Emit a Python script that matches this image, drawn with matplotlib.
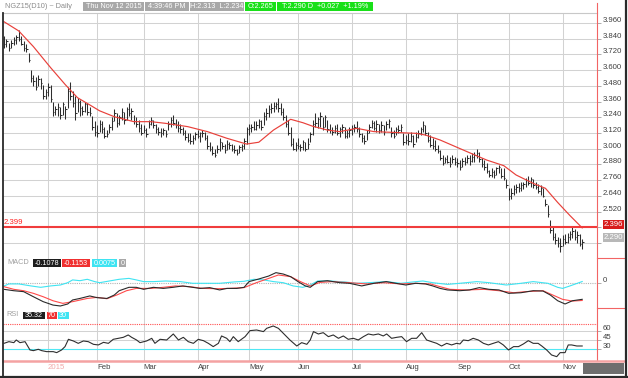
import matplotlib
matplotlib.use("Agg")
import matplotlib.pyplot as plt
from matplotlib.patches import Rectangle
from matplotlib.transforms import offset_copy

plt.rcParams['font.family'] = ['Liberation Sans', 'DejaVu Sans']

W, H = 628, 378

# month starts as bar index (bar 0 = early Dec 2014)
month_pos = [18, 38, 57, 79, 100, 120, 142, 164, 185, 206, 228]
month_lab = ['2015', 'Feb', 'Mar', 'Apr', 'May', 'Jun', 'Jul', 'Aug', 'Sep', 'Oct', 'Nov']

# daily bars (high / low / close)
high = [3.86, 3.84, 3.81, 3.83, 3.85, 3.87, 3.91, 3.86, 3.82, 3.80,
        3.73, 3.60, 3.56, 3.55, 3.56, 3.54, 3.49, 3.46, 3.50, 3.49,
        3.36, 3.33, 3.35, 3.32, 3.36, 3.33, 3.47, 3.51, 3.44, 3.40,
        3.39, 3.37, 3.33, 3.36, 3.35, 3.32, 3.25, 3.21, 3.18, 3.22,
        3.21, 3.17, 3.14, 3.19, 3.245, 3.30, 3.27, 3.26, 3.31, 3.28,
        3.32, 3.35, 3.31, 3.26, 3.245, 3.22, 3.19, 3.18, 3.16, 3.22,
        3.245, 3.22, 3.19, 3.17, 3.16, 3.16, 3.14, 3.21, 3.245, 3.26,
        3.23, 3.21, 3.19, 3.17, 3.14, 3.12, 3.12, 3.105, 3.13, 3.14,
        3.13, 3.14, 3.13, 3.105, 3.05, 3.02, 3.00, 3.03, 3.08, 3.05,
        3.04, 3.07, 3.05, 3.04, 3.03, 3.00, 3.03, 3.04, 3.08, 3.17,
        3.19, 3.19, 3.21, 3.21, 3.23, 3.22, 3.28, 3.31, 3.335, 3.35,
        3.36, 3.36, 3.385, 3.35, 3.31, 3.26, 3.22, 3.17, 3.08, 3.05,
        3.08, 3.04, 3.07, 3.05, 3.08, 3.13, 3.22, 3.27, 3.245, 3.28,
        3.245, 3.26, 3.22, 3.19, 3.17, 3.18, 3.19, 3.17, 3.19, 3.17,
        3.14, 3.17, 3.18, 3.19, 3.21, 3.17, 3.12, 3.105, 3.14, 3.19,
        3.22, 3.21, 3.22, 3.19, 3.21, 3.18, 3.21, 3.23, 3.17, 3.14,
        3.17, 3.18, 3.19, 3.12, 3.105, 3.12, 3.13, 3.105, 3.13, 3.14,
        3.17, 3.21, 3.18, 3.13, 3.105, 3.08, 3.07, 3.03, 2.99, 2.95,
        2.94, 2.95, 2.94, 2.95, 2.94, 2.927, 2.915, 2.927, 2.94, 2.95,
        2.95, 2.965, 2.978, 3.00, 2.978, 2.927, 2.915, 2.89, 2.838, 2.85,
        2.838, 2.863, 2.876, 2.85, 2.85, 2.77, 2.70, 2.70, 2.72, 2.73,
        2.74, 2.745, 2.75, 2.78, 2.79, 2.785, 2.77, 2.75, 2.73, 2.72,
        2.70, 2.62, 2.57, 2.455, 2.40, 2.355, 2.33, 2.32, 2.34, 2.35,
        2.36, 2.37, 2.40, 2.39, 2.37, 2.35, 2.313]
low = [3.77, 3.78, 3.75, 3.77, 3.79, 3.80, 3.82, 3.79, 3.75, 3.74,
       3.66, 3.51, 3.48, 3.45, 3.48, 3.46, 3.38, 3.38, 3.40, 3.36,
       3.25, 3.26, 3.25, 3.23, 3.26, 3.23, 3.31, 3.37, 3.32, 3.22,
       3.28, 3.25, 3.26, 3.28, 3.26, 3.25, 3.14, 3.10, 3.09, 3.13,
       3.12, 3.08, 3.09, 3.12, 3.14, 3.21, 3.17, 3.18, 3.22, 3.19,
       3.22, 3.25, 3.22, 3.19, 3.17, 3.13, 3.105, 3.12, 3.09, 3.16,
       3.18, 3.16, 3.12, 3.105, 3.09, 3.105, 3.09, 3.14, 3.17, 3.18,
       3.16, 3.13, 3.12, 3.105, 3.07, 3.055, 3.04, 3.04, 3.07, 3.08,
       3.055, 3.09, 3.07, 3.00, 2.98, 2.95, 2.94, 2.965, 2.98, 3.00,
       2.965, 2.99, 3.00, 2.98, 2.965, 2.95, 2.965, 2.98, 3.00, 3.04,
       3.105, 3.13, 3.14, 3.14, 3.16, 3.14, 3.18, 3.22, 3.245, 3.27,
       3.28, 3.30, 3.28, 3.26, 3.22, 3.17, 3.105, 3.02, 2.99, 2.98,
       3.00, 2.98, 2.99, 2.98, 3.00, 3.055, 3.105, 3.17, 3.16, 3.17,
       3.14, 3.17, 3.13, 3.12, 3.105, 3.12, 3.105, 3.09, 3.12, 3.08,
       3.08, 3.09, 3.105, 3.13, 3.13, 3.09, 3.055, 3.04, 3.07, 3.12,
       3.16, 3.14, 3.13, 3.12, 3.13, 3.105, 3.14, 3.16, 3.09, 3.08,
       3.105, 3.12, 3.13, 3.03, 3.04, 3.03, 3.055, 3.016, 3.055, 3.08,
       3.105, 3.13, 3.105, 3.055, 3.016, 3.00, 2.98, 2.965, 2.915, 2.876,
       2.89, 2.89, 2.863, 2.89, 2.876, 2.863, 2.838, 2.863, 2.876, 2.89,
       2.876, 2.90, 2.90, 2.927, 2.90, 2.863, 2.838, 2.813, 2.787, 2.787,
       2.775, 2.80, 2.813, 2.775, 2.76, 2.70, 2.61, 2.62, 2.65, 2.66,
       2.67, 2.68, 2.69, 2.71, 2.72, 2.71, 2.70, 2.69, 2.66, 2.645,
       2.63, 2.56, 2.48, 2.36, 2.30, 2.27, 2.25, 2.21, 2.26, 2.27,
       2.28, 2.30, 2.32, 2.30, 2.28, 2.26, 2.234]
close = [3.80, 3.82, 3.77, 3.81, 3.83, 3.85, 3.84, 3.80, 3.77, 3.76,
         3.68, 3.54, 3.52, 3.47, 3.53, 3.50, 3.40, 3.43, 3.47, 3.38,
         3.28, 3.30, 3.32, 3.26, 3.34, 3.30, 3.44, 3.40, 3.35, 3.27,
         3.36, 3.31, 3.29, 3.34, 3.28, 3.27, 3.17, 3.13, 3.12, 3.19,
         3.15, 3.10, 3.11, 3.17, 3.21, 3.27, 3.20, 3.24, 3.28, 3.22,
         3.30, 3.27, 3.29, 3.21, 3.19, 3.16, 3.12, 3.14, 3.11, 3.19,
         3.22, 3.18, 3.15, 3.13, 3.12, 3.14, 3.11, 3.19, 3.22, 3.20,
         3.18, 3.16, 3.15, 3.12, 3.09, 3.07, 3.06, 3.08, 3.11, 3.10,
         3.12, 3.12, 3.08, 3.02, 3.00, 2.97, 2.95, 3.00, 3.05, 3.02,
         2.99, 3.04, 3.03, 3.00, 2.99, 2.97, 3.01, 3.02, 3.06, 3.15,
         3.16, 3.17, 3.15, 3.18, 3.21, 3.17, 3.25, 3.27, 3.30, 3.31,
         3.33, 3.34, 3.31, 3.28, 3.24, 3.19, 3.12, 3.04, 3.00, 3.03,
         3.02, 3.01, 3.05, 3.00, 3.04, 3.11, 3.19, 3.20, 3.23, 3.25,
         3.17, 3.24, 3.15, 3.14, 3.13, 3.16, 3.12, 3.15, 3.17, 3.10,
         3.12, 3.14, 3.16, 3.17, 3.15, 3.11, 3.08, 3.06, 3.12, 3.17,
         3.20, 3.16, 3.19, 3.14, 3.18, 3.13, 3.19, 3.21, 3.12, 3.10,
         3.15, 3.14, 3.17, 3.05, 3.07, 3.06, 3.10, 3.04, 3.09, 3.12,
         3.15, 3.18, 3.12, 3.07, 3.03, 3.02, 3.00, 2.98, 2.93, 2.89,
         2.92, 2.90, 2.88, 2.92, 2.90, 2.89, 2.86, 2.91, 2.90, 2.93,
         2.91, 2.94, 2.95, 2.97, 2.92, 2.88, 2.86, 2.83, 2.80, 2.82,
         2.80, 2.85, 2.86, 2.79, 2.78, 2.72, 2.64, 2.66, 2.69, 2.71,
         2.70, 2.72, 2.73, 2.76, 2.74, 2.77, 2.72, 2.71, 2.68, 2.70,
         2.64, 2.58, 2.50, 2.38, 2.33, 2.30, 2.28, 2.26, 2.31, 2.29,
         2.33, 2.35, 2.37, 2.33, 2.34, 2.27, 2.290]
idx = list(range(len(close)))

# moving average (red), read at sample bars
ma_x = [0, 6, 12, 19, 25, 30, 35, 39, 45, 53, 60, 66, 75, 83, 91, 99, 104, 110,
        117, 122, 126, 132, 137, 144, 151, 159, 168, 172, 178, 189, 197, 204,
        209, 216, 221, 226, 231, 236]
ma_y = [3.97, 3.90, 3.78, 3.62, 3.49, 3.39, 3.335, 3.29, 3.245, 3.207, 3.207,
        3.194, 3.169, 3.131, 3.08, 3.036, 3.05, 3.143, 3.225, 3.199, 3.172,
        3.143, 3.131, 3.156, 3.131, 3.125, 3.118, 3.105, 3.067, 2.978, 2.914,
        2.871, 2.80, 2.736, 2.698, 2.59, 2.49, 2.396]
ma_level = 2.399

price_grid = [2.28, 2.40, 2.52, 2.64, 2.76, 2.88, 3.00, 3.12, 3.24, 3.36,
              3.48, 3.60, 3.72, 3.84, 3.96]
price_lab = [2.52, 2.64, 2.76, 2.88, 3.00, 3.12, 3.24, 3.36, 3.48, 3.60,
             3.72, 3.84, 3.96]

# MACD (black), signal (red), difference (cyan)
macd_x = [0, 4, 8, 12, 16, 20, 23, 26, 28, 31, 35, 38, 42, 45, 47, 51, 54, 57,
          61, 65, 69, 73, 77, 80, 84, 88, 91, 95, 98, 100, 104, 108, 111, 114,
          117, 120, 123, 125, 128, 132, 137, 141, 146, 151, 156, 160, 164, 168,
          172, 175, 178, 181, 186, 190, 194, 198, 202, 206, 211, 216, 220, 223,
          226, 229, 232, 236]
macd_y = [-0.043, -0.052, -0.058, -0.091, -0.123, -0.145, -0.151, -0.138,
          -0.112, -0.102, -0.086, -0.097, -0.102, -0.080, -0.052, -0.030,
          -0.030, -0.043, -0.030, -0.037, -0.030, -0.021, -0.030, -0.037,
          -0.032, -0.047, -0.037, -0.037, -0.030, 0.007, 0.024, 0.043, 0.065,
          0.056, 0.039, 0.007, -0.021, -0.030, 0.007, 0.013, 0.0, -0.004,
          -0.021, -0.004, 0.007, -0.004, -0.015, -0.004, -0.008, -0.021,
          -0.037, -0.047, -0.052, -0.047, -0.032, -0.043, -0.047, -0.069,
          -0.065, -0.052, -0.054, -0.080, -0.117, -0.138, -0.117, -0.1078]
sig_x = [0, 4, 8, 12, 16, 20, 24, 28, 34, 38, 42, 46, 50, 54, 60, 65, 70, 76,
         81, 87, 92, 98, 103, 107, 112, 117, 121, 125, 129, 134, 141, 148, 155,
         162, 168, 174, 178, 182, 189, 196, 202, 208, 213, 220, 224, 228, 232,
         236]
sig_y = [-0.026, -0.043, -0.052, -0.069, -0.091, -0.117, -0.134, -0.123,
         -0.102, -0.095, -0.104, -0.080, -0.052, -0.037, -0.037, -0.030,
         -0.021, -0.026, -0.037, -0.039, -0.037, -0.032, 0.0, 0.022, 0.050,
         0.039, 0.007, -0.021, 0.002, 0.007, 0.0, -0.008, 0.0, -0.008, -0.004,
         -0.008, -0.026, -0.043, -0.047, -0.043, -0.052, -0.065, -0.058,
         -0.052, -0.080, -0.108, -0.119, -0.1153]
diff_x = [0, 2, 6, 11, 15, 19, 23, 26, 28, 31, 34, 37, 39, 43, 47, 51, 54, 57,
          61, 66, 72, 77, 83, 88, 94, 98, 102, 106, 110, 114, 118, 122, 125,
          128, 133, 139, 144, 149, 156, 162, 167, 171, 175, 181, 186, 193, 198,
          205, 211, 216, 222, 226, 228, 231, 234, 236]
diff_y = [-0.021, -0.008, -0.008, -0.021, -0.030, -0.021, -0.015, 0.0, 0.018,
          0.013, 0.022, 0.007, 0.0, 0.011, 0.022, 0.028, 0.018, 0.007, 0.007,
          0.011, 0.007, -0.004, -0.004, -0.004, 0.005, 0.009, 0.022, 0.018,
          0.007, 0.0, -0.021, -0.030, -0.015, 0.011, 0.011, 0.005, -0.004, 0.0,
          0.007, -0.004, 0.005, 0.011, 0.0, -0.011, -0.004, 0.007, 0.0, -0.015,
          -0.004, 0.007, -0.004, -0.030, -0.037, -0.021, -0.004, 0.0075]

# RSI
rsi_x = [0, 2, 4, 5, 6.5, 8.6, 10.6, 12, 14, 15.4, 17.4, 20.1, 21.5, 23.5, 24.9,
         26.3, 28.3, 30.3, 32.4, 34.4, 36.5, 38.5, 40.6, 42.6, 44.6, 46.7,
         48.7, 50.7, 52.1, 54.1, 55.5, 58.2, 60.3, 61.6, 63.7, 66.4, 69.1,
         71.2, 73.2, 75.2, 77.3, 79.3, 81.4, 83.4, 85.4, 87.5, 88.8, 90.9,
         92.2, 93.6, 95.6, 98.4, 100.4, 103.1, 105.9, 107.2, 109.9, 112, 114,
         116.7, 119.5, 121.5, 123.6, 125, 126.3, 128.3, 130.3, 132.4, 134.4,
         136.5, 138.5, 140.5, 142.6, 144.6, 146.7, 148.7, 150.7, 152.8, 154.8,
         156.2, 158.2, 160.3, 162.3, 164.3, 166.4, 168.4, 170.5, 172.5, 174.5,
         176.6, 178.6, 180.7, 182.7, 184.7, 186.1, 187.5, 189.5, 191.5, 193.6,
         195.7, 197.7, 199.7, 201.8, 203.8, 205.9, 208, 210, 212, 214, 216, 218,
         219.5, 221.5, 223.5, 225.6, 227, 229, 230.3, 231.7, 233.8, 236]
rsi_y = [39.6, 42.3, 40.7, 45.0, 40.7, 42.3, 28.9, 27.8, 30.0, 27.8, 26.2, 26.2,
         24.6, 28.9, 34.3, 46.1, 43.4, 39.6, 43.4, 42.3, 38.0, 37.0, 41.2, 39.6,
         46.1, 47.7, 49.3, 53.1, 49.3, 45.0, 40.7, 43.4, 47.7, 39.6, 46.1, 45.0,
         54.7, 45.0, 49.3, 42.3, 39.6, 46.1, 43.9, 39.6, 34.3, 39.6, 51.5, 47.7,
         42.3, 50.4, 42.3, 50.4, 60.1, 61.1, 58.5, 63.8, 67.6, 63.8, 55.8, 45.0,
         35.3, 40.7, 38.0, 45.0, 58.5, 54.7, 56.8, 50.4, 53.1, 47.7, 51.5, 46.1,
         47.7, 45.0, 50.4, 54.7, 53.1, 54.7, 51.5, 54.7, 47.7, 49.3, 50.4, 42.3,
         47.7, 47.7, 56.8, 45.0, 42.3, 39.6, 35.3, 39.6, 37.0, 39.6, 38.6, 45.0,
         43.9, 47.7, 45.0, 39.6, 37.0, 39.6, 42.3, 37.0, 28.9, 34.3, 34.3, 38.6,
         43.9, 39.6, 39.6, 35.3, 28.9, 20.8, 18.1, 24.6, 24.6, 37.0, 37.0, 35.3,
         35.32]

# ---------------- layout helpers ----------------
fig = plt.figure(figsize=(W / 100, H / 100), dpi=100)
fig.patch.set_facecolor('white')


def px_axes(x0, y0, x1, y1):
    return fig.add_axes([x0 / W, 1 - y1 / H, (x1 - x0) / W, (y1 - y0) / H])


XL = (-0.41, 242.04)
GRID = '#d2d2d2'
TXT = '#404040'
FS = 5.6

main = px_axes(3, 12.7, 597, 258)
macd = px_axes(3, 258, 597, 308)
rsi = px_axes(3, 308, 597, 361)

for ax in (main, macd, rsi):
    ax.set_xlim(*XL)
    for s in ax.spines.values():
        s.set_visible(False)
    ax.set_xticks(month_pos)
    ax.grid(True, axis='x', color=GRID, lw=0.75)
    ax.tick_params(axis='x', length=0, labelbottom=False)
    ax.yaxis.tick_right()
    ax.tick_params(axis='y', length=3, width=0.6, color='#a0a0a0',
                   labelright=False, labelleft=False)
    ax.set_axisbelow(True)

main.spines['top'].set_visible(True)
main.spines['top'].set_color('#c8c8c8')
main.spines['top'].set_linewidth(0.8)


def right_label(ax, v, s, dy=2.5):
    tr = offset_copy(ax.get_yaxis_transform(), x=6, y=dy, units='dots')
    ax.text(1.0, v, s, transform=tr, ha='left', va='center', fontsize=FS,
            color=TXT, clip_on=False)


# ---- price panel ----
main.set_ylim(2.166, 4.039)
main.set_yticks(price_grid)
main.grid(True, axis='y', color=GRID, lw=0.75)
main.vlines(idx, low, high, color='#2e2e2e', lw=0.75)
main.hlines(close, idx, [i + 0.6 for i in idx], color='#2e2e2e', lw=0.75)
main.plot(ma_x, ma_y, color='#e8403a', lw=0.85)
main.axhline(ma_level, color='#f03c3c', lw=1.5)
for v in price_lab:
    right_label(main, v, f'{v:.3f}')
main.text(0.0, ma_level, f'{ma_level:.3f}',
          transform=offset_copy(main.get_yaxis_transform(), x=1, y=4.5, units='dots'),
          ha='left', va='center', fontsize=FS, color='#ff2020')
for v, s, fc, dy in [(ma_y[-1], f'{ma_y[-1]:.3f}', '#d81c1c', 3.5),
                     (close[-1], f'{close[-1]:.3f}', '#b8b8b8', 4.5)]:
    tr = offset_copy(main.get_yaxis_transform(), x=6.5, y=dy, units='dots')
    main.text(1.0, v, s, transform=tr, ha='left', va='center', fontsize=FS,
              color='white', clip_on=False,
              bbox=dict(boxstyle='square,pad=0.12', fc=fc, ec='none'))

# ---- MACD panel ----
macd.set_ylim(-0.164, 0.160)
macd.set_yticks([0])
macd.axhline(0, color='#b4b4b4', lw=0.8, ls=(0, (1, 1)))
macd.plot(diff_x, diff_y, color='#3ee4f2', lw=0.8)
macd.plot(sig_x, sig_y, color='#ff4a4a', lw=0.8)
macd.plot(macd_x, macd_y, color='#2a2a2a', lw=0.8)
right_label(macd, 0, '0')

# ---- RSI panel ----
rsi.set_ylim(11.1, 96.6)
rsi.set_yticks([30, 45, 60])
rsi.axhline(70, color='#ff5050', lw=0.8, ls=(0, (1, 1)))
rsi.axhline(60, color=GRID, lw=0.75)
rsi.axhline(45, color=GRID, lw=0.75)
rsi.axhline(30, color='#50e8f4', lw=0.8)
rsi.plot(rsi_x, rsi_y, color='#2e2e2e', lw=0.8)
for v in [60, 45, 30]:
    right_label(rsi, v, str(v))

rsi.tick_params(axis='x', labelbottom=True, pad=2.2, labelsize=FS, labelcolor=TXT)
rsi.set_xticks(month_pos, month_lab)
for lab in rsi.get_xticklabels():
    lab.set_ha('left')
rsi.get_xticklabels()[0].set_color('#f2a8a8')

# ---------------- overlay: frame, title and legend boxes ----------------
ov = fig.add_axes([0, 0, 1, 1])
ov.set_xlim(0, W)
ov.set_ylim(H, 0)
ov.axis('off')
ov.patch.set_alpha(0)
ov.set_zorder(10)

ov.plot([597, 597], [3, 361], color='#f26464', lw=0.8)
ov.plot([3, 624], [361, 361], color='#f4a2a2', lw=1.8)
ov.plot([597, 624], [258, 258], color='#f26464', lw=0.8)
ov.plot([597, 624], [308, 308], color='#f26464', lw=0.8)
ov.add_patch(Rectangle((583, 363), 41, 11, fc='#6e6e6e', ec='none'))
ov.plot([2.5, 2.5], [12.7, 376], color='#2a2a2a', lw=1.3)
ov.plot([626, 626], [0, 378], color='#2a2a2a', lw=1.6)
ov.plot([0, 628], [376.5, 376.5], color='#2a2a2a', lw=1.6)


def box(x0, x1, y0, y1, s, fc, tc='white'):
    ov.add_patch(Rectangle((x0, y0), x1 - x0, y1 - y0, fc=fc, ec='none'))
    ov.text((x0 + x1) / 2, (y0 + y1) / 2 + 0.3, s, ha='center', va='center',
            fontsize=5.2, color=tc)


ov.text(5, 6, 'NGZ15(D10) ~ Daily', ha='left', va='center', fontsize=5.3,
        color='#8c8c8c')
box(83, 144, 1.5, 10.5, 'Thu Nov 12 2015', '#a8a8a8')
box(145, 189, 1.5, 10.5, '4:39:46 PM', '#a8a8a8')
box(190, 244, 1.5, 10.5, 'H:2.313  L:2.234', '#a8a8a8')
box(245, 276, 1.5, 10.5, 'O:2.265', '#18e018')
box(277, 373, 1.5, 10.5, 'T:2.290 D  +0.027  +1.19%', '#18e018')

ov.text(7, 262.7, 'MACD', ha='left', va='center', fontsize=5.3, color='#a0a0a0')
box(33, 61, 259, 266.5, f'{macd_y[-1]:.4f}', '#1e1e1e')
box(62, 90, 259, 266.5, f'{sig_y[-1]:.4f}', '#f03030')
box(92, 117, 259, 266.5, f'{diff_y[-1]:.4f}', '#3ee4f2')
box(119, 126, 259, 266.5, '0', '#a8a8a8')

ov.text(6, 315, 'RSI', ha='left', va='center', fontsize=5.3, color='#a0a0a0')
box(23, 44.5, 311.5, 318.5, f'{rsi_y[-1]:.2f}', '#1e1e1e')
box(46.5, 56.5, 311.5, 318.5, '70', '#f03030')
box(58, 68.5, 311.5, 318.5, '30', '#3ee4f2')

fig.savefig('out.png', dpi=100)
